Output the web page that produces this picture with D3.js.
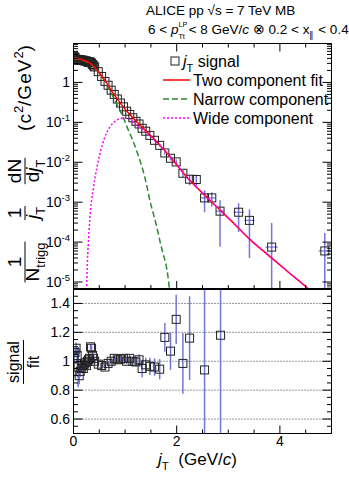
<!DOCTYPE html>
<html>
<head>
<meta charset="utf-8">
<script src="https://cdnjs.cloudflare.com/ajax/libs/d3/7.8.5/d3.min.js"></script>
<style>
  body { margin: 0; background: #fff; }
  svg text { font-family: "Liberation Sans", Arial, sans-serif; fill: #000; white-space: pre; }
</style>
</head>
<body>
<svg id="chart" width="349" height="482"></svg>
<script>
// jT signal points (top panel)
const jT = [0.01,0.03,0.05,0.07,0.09,0.11,0.13,0.15,0.17,0.19,0.21,0.23,0.25,0.27,0.29,0.31,0.33,0.35,0.37,0.39,0.41,
  0.48,0.545,0.61,0.67,0.73,0.79,0.85,0.91,0.97,1.03,1.09,1.15,1.21,1.27,1.33,1.40,1.48,1.57,1.67,
  1.77,1.88,1.99,2.12,2.25,2.38,2.54,2.68,2.84,3.20,3.41,3.84,4.87];
const signal = [4.47,4.22,3.86,3.58,3.65,3.70,3.73,3.59,3.63,3.58,3.46,3.45,3.44,3.27,3.18,3.29,3.22,3.06,2.81,2.60,2.44,
  1.86,1.41,1.06,0.85,0.64,0.50,0.384,0.305,0.245,0.19,0.158,0.13,0.106,0.091,0.071,0.060,0.047,0.0355,0.0265,
  0.0171,0.0126,0.0102,0.0053,0.00376,0.0037,0.00128,0.00128,0.000596,0.00056,0.00035,0.000075,0.00006];
const signalErr = [0,0,0,0,0,0,0,0,0,0,0,0,0,0,0,0,0,0,0,0,0,
  0,0,0,0,0,0,0,0,0,0,0,0,0,0,0.004,0.0035,0.003,0.0025,0.002,
  0.0016,0.0015,0.0016,0.0011,0.0011,0.0012,0.00072,0.0005,0.00052,0.00038,0.00031,0.000225,0.00011];
const binHalf = [0,0,0,0,0,0,0,0,0,0,0,0,0,0,0,0,0,0,0,0,0,
  0,0,0,0,0,0,0,0,0,0,0,0,0,0,0,0,0,0,0,
  0,0,0,0,0,0,0.07,0.07,0.08,0.1,0.1,0.12,0.12];

// fit curves
const fitJT = [0,0.126,0.261,0.377,0.473,0.570,0.667,0.763,0.860,0.957,1.053,1.150,1.246,1.343,1.478,1.614,1.729,1.865,
  2.0,2.116,2.251,2.386,2.541,2.773,3.082,3.411,3.797,4.184,4.531,4.8];
const fitVal = [4.10,3.87,3.35,2.66,1.94,1.33,0.866,0.546,0.365,0.251,0.178,0.130,0.0972,0.0729,0.0487,0.0326,0.0224,0.0141,
  0.00866,0.00562,0.00355,0.00237,0.00150,0.000772,0.000316,0.000119,0.0000447,0.0000168,0.00000708,0.000003];
const narrowJT = [0,0.126,0.261,0.377,0.473,0.570,0.667,0.763,0.860,0.957,1.05,1.15,1.246,1.343,1.42,1.48,1.55,1.61,1.68,1.73,1.79,1.83,1.86,1.9];
const narrowVal = [4.0,3.8,3.25,2.6,1.9,1.28,0.80,0.45,0.25,0.14,0.07,0.035,0.016,0.0065,0.0026,0.0011,0.0005,0.00025,0.0001,0.000055,0.000028,0.000014,0.0000065,0.000003];
const wideJT = [0.25,0.27,0.30,0.33,0.38,0.45,0.52,0.60,0.70,0.80,0.90,1.00,1.10,1.20,1.343,1.478,1.614,1.729,1.865,
  2.0,2.116,2.251,2.386,2.541,2.773,3.082,3.411,3.797,4.184,4.531,4.8];
const wideVal = [0.000005,0.000032,0.00018,0.00063,0.002,0.007,0.018,0.040,0.075,0.105,0.123,0.127,0.115,0.088,0.066,0.046,0.0318,0.0222,0.0141,
  0.00866,0.00562,0.00355,0.00237,0.0015,0.000772,0.000316,0.000119,0.0000447,0.0000168,0.00000708,0.000003];

// signal / fit (bottom panel)
const ratioJT = [0.01,0.03,0.05,0.07,0.09,0.11,0.13,0.15,0.17,0.19,0.21,0.23,0.25,0.27,0.29,0.31,0.33,0.35,0.37,0.39,0.41,
  0.48,0.545,0.61,0.67,0.73,0.79,0.85,0.91,0.97,1.03,1.09,1.15,1.21,1.27,1.33,1.40,1.48,1.57,1.67,
  1.77,1.88,1.99,2.12,2.25,2.54,2.85];
const ratio = [1.02,1.06,1.09,1.04,0.96,0.90,0.93,0.95,0.97,0.95,0.98,0.99,0.97,1.00,1.01,1.02,1.10,1.09,1.04,1.02,1.00,
  0.98,0.97,0.96,0.985,1.00,1.02,1.01,1.015,1.02,1.00,1.02,1.00,0.995,1.01,0.95,0.975,0.965,0.96,0.945,
  1.165,1.07,1.29,0.985,1.16,0.94,1.18];
const ratioErr = [0.03,0.03,0.04,0.05,0.14,0.06,0.04,0.03,0.03,0.03,0.03,0.02,0.02,0.02,0.02,0.02,0.02,0.02,0.02,0.02,0.02,
  0.02,0.02,0.02,0.02,0.02,0.02,0.02,0.02,0.02,0.02,0.03,0.03,0.03,0.04,0.06,0.05,0.06,0.06,0.07,
  0.10,0.13,0.17,0.21,0.29,0.60,0.75];

const xTicks = [0, 2, 4];
const ratioTicks = [0.6, 0.8, 1, 1.2, 1.4];

const svg = d3.select("#chart");
const x = d3.scaleLinear().domain([0, 5]).range([73.5, 331.5]);
const yTop = d3.scaleLog().domain([Math.pow(10, -5.175), Math.pow(10, 0.975)]).range([289, 43.5]);
const yRat = d3.scaleLinear().domain([0.5, 1.5]).range([433.5, 289]);

const L = 73.5, R = 331.5, T = 43.5, M = 289, B = 433.5;

// text with sub/superscripts; p.back stacks a script under the previous one
function rich(sel, px, py, size, parts, anchor) {
  const t = sel.append("text").attr("x", px).attr("y", py)
    .attr("text-anchor", anchor || "start").style("font-size", size + "px");
  let base = 0, lastW = 0;
  parts.forEach(function (p) {
    if (typeof p === "string") p = { t: p };
    let off = p.sub ? size * 0.32 : p.sup ? -size * 0.42 : 0;
    if (p.off !== undefined) off = p.off * size;
    const sc = p.sc || (p.sub || p.sup ? 0.68 : 1);
    const s = t.append("tspan").attr("dy", off - base)
      .style("font-size", size * sc + "px")
      .text(p.t);
    if (p.it) s.style("font-style", "italic");
    if (p.back) s.attr("dx", -lastW);
    if (p.ls) s.style("letter-spacing", p.ls + "px");
    base = off;
    lastW = s.node().getComputedTextLength();
  });
  return t;
}

function line(g, x1, y1, x2, y2, w) {
  g.append("line").attr("x1", x1).attr("y1", y1).attr("x2", x2).attr("y2", y2)
    .attr("stroke", "#000").attr("stroke-width", w || 1);
}

const defs = svg.append("defs");
defs.append("clipPath").attr("id", "clipTop").append("rect")
  .attr("x", L).attr("y", T).attr("width", R - L).attr("height", M - T);
defs.append("clipPath").attr("id", "clipRat").append("rect")
  .attr("x", L).attr("y", M).attr("width", R - L).attr("height", B - M);

// ---------- top panel ----------
const topG = svg.append("g").attr("clip-path", "url(#clipTop)");
const errCol = "#5555cc";

jT.forEach(function (v, i) {
  if (signalErr[i] > 0) {
    const lo = Math.max(signal[i] - signalErr[i], 1e-9);
    topG.append("line").attr("x1", x(v)).attr("x2", x(v))
      .attr("y1", yTop(signal[i] + signalErr[i])).attr("y2", yTop(lo))
      .attr("stroke", errCol).attr("stroke-width", 1.5).attr("opacity", 0.8);
  }
  if (binHalf[i] > 0) {
    topG.append("line").attr("x1", x(v - binHalf[i])).attr("x2", x(v + binHalf[i]))
      .attr("y1", yTop(signal[i])).attr("y2", yTop(signal[i]))
      .attr("stroke", errCol).attr("stroke-width", 1.2).attr("opacity", 0.8);
  }
});

topG.selectAll("rect.sig").data(jT).enter().append("rect")
  .attr("x", function (d) { return x(d) - 4; })
  .attr("y", function (d, i) { return yTop(signal[i]) - 4; })
  .attr("width", 8).attr("height", 8)
  .attr("fill", "none").attr("stroke", "#222").attr("stroke-width", 1);

const curve = d3.line().curve(d3.curveMonotoneX);
function curvePts(xs, ys) { return xs.map(function (v, i) { return [x(v), yTop(ys[i])]; }); }

topG.append("path").attr("d", curve(curvePts(narrowJT, narrowVal)))
  .attr("fill", "none").attr("stroke", "#2b8a2b").attr("stroke-width", 1.5).attr("stroke-dasharray", "6,3");
topG.append("path").attr("d", curve(curvePts(fitJT, fitVal)))
  .attr("fill", "none").attr("stroke", "#ff0000").attr("stroke-width", 1.5);
topG.append("path").attr("d", curve(curvePts(wideJT, wideVal)))
  .attr("fill", "none").attr("stroke", "#ff00ff").attr("stroke-width", 1.5).attr("stroke-dasharray", "2,2");

// ---------- ratio panel ----------
const rat = svg.append("g").attr("clip-path", "url(#clipRat)");
ratioTicks.forEach(function (v) {
  rat.append("line").attr("x1", L).attr("x2", R).attr("y1", yRat(v)).attr("y2", yRat(v))
    .attr("stroke", "#333").attr("stroke-width", 1).attr("stroke-dasharray", "1,2");
});
ratioJT.forEach(function (v, i) {
  rat.append("line").attr("x1", x(v)).attr("x2", x(v))
    .attr("y1", yRat(ratio[i] + ratioErr[i])).attr("y2", yRat(ratio[i] - ratioErr[i]))
    .attr("stroke", errCol).attr("stroke-width", 1.5).attr("opacity", 0.8);
});
rat.selectAll("rect.rat").data(ratioJT).enter().append("rect")
  .attr("x", function (d) { return x(d) - 4; })
  .attr("y", function (d, i) { return yRat(ratio[i]) - 4; })
  .attr("width", 8).attr("height", 8)
  .attr("fill", "none").attr("stroke", "#222").attr("stroke-width", 1);

// ---------- frames and ticks ----------
const ax = svg.append("g");
line(ax, L, T, R, T); line(ax, L, T, L, B); line(ax, R, T, R, B); line(ax, L, B, R, B);
line(ax, L, M, R, M, 2);

d3.range(0, 5.01, 0.5).forEach(function (v) {
  const major = xTicks.indexOf(v) >= 0;
  const px = x(v);
  line(ax, px, T, px, T + (major ? 8 : 4));
  line(ax, px, M, px, M - (major ? 8 : 4));
  line(ax, px, B, px, B - (major ? 8 : 4));
});

yTop.ticks().forEach(function (v) {
  const py = yTop(v);
  if (py < T || py > M) return;
  const lg = Math.log10(v);
  const major = Math.abs(lg - Math.round(lg)) < 1e-6;
  const len = major ? 9 : 4.5;
  line(ax, L, py, L + len, py);
  line(ax, R, py, R - len, py);
  if (major) {
    const e = Math.round(lg);
    if (e === 0) rich(ax, 70, py + 5, 14, ["1"], "end");
    else rich(ax, 70, py + 5, 14, ["10", { t: "-" + (-e), sup: true }], "end");
  }
});

d3.range(0.5, 1.501, 0.05).forEach(function (v) {
  const py = yRat(v);
  const major = ratioTicks.some(function (t) { return Math.abs(t - v) < 1e-6; });
  const len = major ? 9 : 4.5;
  line(ax, L, py, L + len, py);
  line(ax, R, py, R - len, py);
});
ratioTicks.forEach(function (v) {
  rich(ax, 70, yRat(v) + 5, 14, [String(v)], "end");
});
xTicks.forEach(function (v) {
  rich(ax, x(v), 446, 14, [String(v)], "middle");
});

// ---------- titles ----------
rich(svg, 146, 15, 13.5, ["ALICE pp \u221As = 7 TeV MB"]);
rich(svg, 148, 33.5, 13.5, ["6 < ", { t: "p", it: true }, { t: "LP", sup: true, off: -0.46, sc: 0.54 },
  { t: "Tt", sub: true, back: true, off: 0.42, sc: 0.54 },
  " < 8 GeV/", { t: "c", it: true }, " \u2297 0.2 < x", { t: "\u2225", sub: true }, " < 0.4"]);

rich(svg, 158, 465, 17, [{ t: "j", it: true }, { t: "T", sub: true }, "  (GeV/", { t: "c", it: true }, ")"]);

function frac(cy, numX, lineX, denX, num, den, size) {
  const g = svg.append("g").attr("transform", "translate(0," + cy + ") rotate(-90)");
  const tn = rich(g, 0, numX, size, num, "middle");
  const td = rich(g, 0, denX, size, den, "middle");
  const w = Math.max(tn.node().getComputedTextLength(), td.node().getComputedTextLength()) + 2;
  line(g, -w / 2, lineX, w / 2, lineX);
  return g;
}
frac(262, 21, 25, 39, ["1"], ["N", { t: "trigg", sub: true }], 19);
frac(213, 21, 25, 39, ["1"], [{ t: "j", it: true }, { t: "T", sub: true }], 19);
frac(171, 21, 25, 39, ["dN"], ["d", { t: "j", it: true }, { t: "T", sub: true }], 19);
const units = svg.append("g").attr("transform", "translate(0,88) rotate(-90)");
rich(units, 0, 31, 19, [{ t: "(c", ls: 1 }, { t: "2", sup: true }, { t: "/GeV", ls: 1 }, { t: "2", sup: true }, ")"], "middle");

frac(362, 19, 23.5, 39, ["signal"], ["fit"], 16);

// ---------- legend ----------
const leg = svg.append("g");
leg.append("rect").attr("x", 171).attr("y", 57).attr("width", 8).attr("height", 8)
  .attr("fill", "none").attr("stroke", "#222");
rich(leg, 183, 66.5, 16, [{ t: "j", it: true }, { t: "T", sub: true }, " signal"]);
leg.append("line").attr("x1", 163).attr("x2", 190).attr("y1", 80).attr("y2", 80)
  .attr("stroke", "#ff0000").attr("stroke-width", 1.5);
rich(leg, 193, 85.5, 16, ["Two component fit"]);
leg.append("line").attr("x1", 163).attr("x2", 190).attr("y1", 99).attr("y2", 99)
  .attr("stroke", "#2b8a2b").attr("stroke-width", 1.5).attr("stroke-dasharray", "6,3");
rich(leg, 193, 104.5, 16, ["Narrow component"]);
leg.append("line").attr("x1", 163).attr("x2", 190).attr("y1", 118).attr("y2", 118)
  .attr("stroke", "#ff00ff").attr("stroke-width", 1.5).attr("stroke-dasharray", "2,2");
rich(leg, 193, 123.5, 16, ["Wide component"]);
</script>
</body>
</html>
